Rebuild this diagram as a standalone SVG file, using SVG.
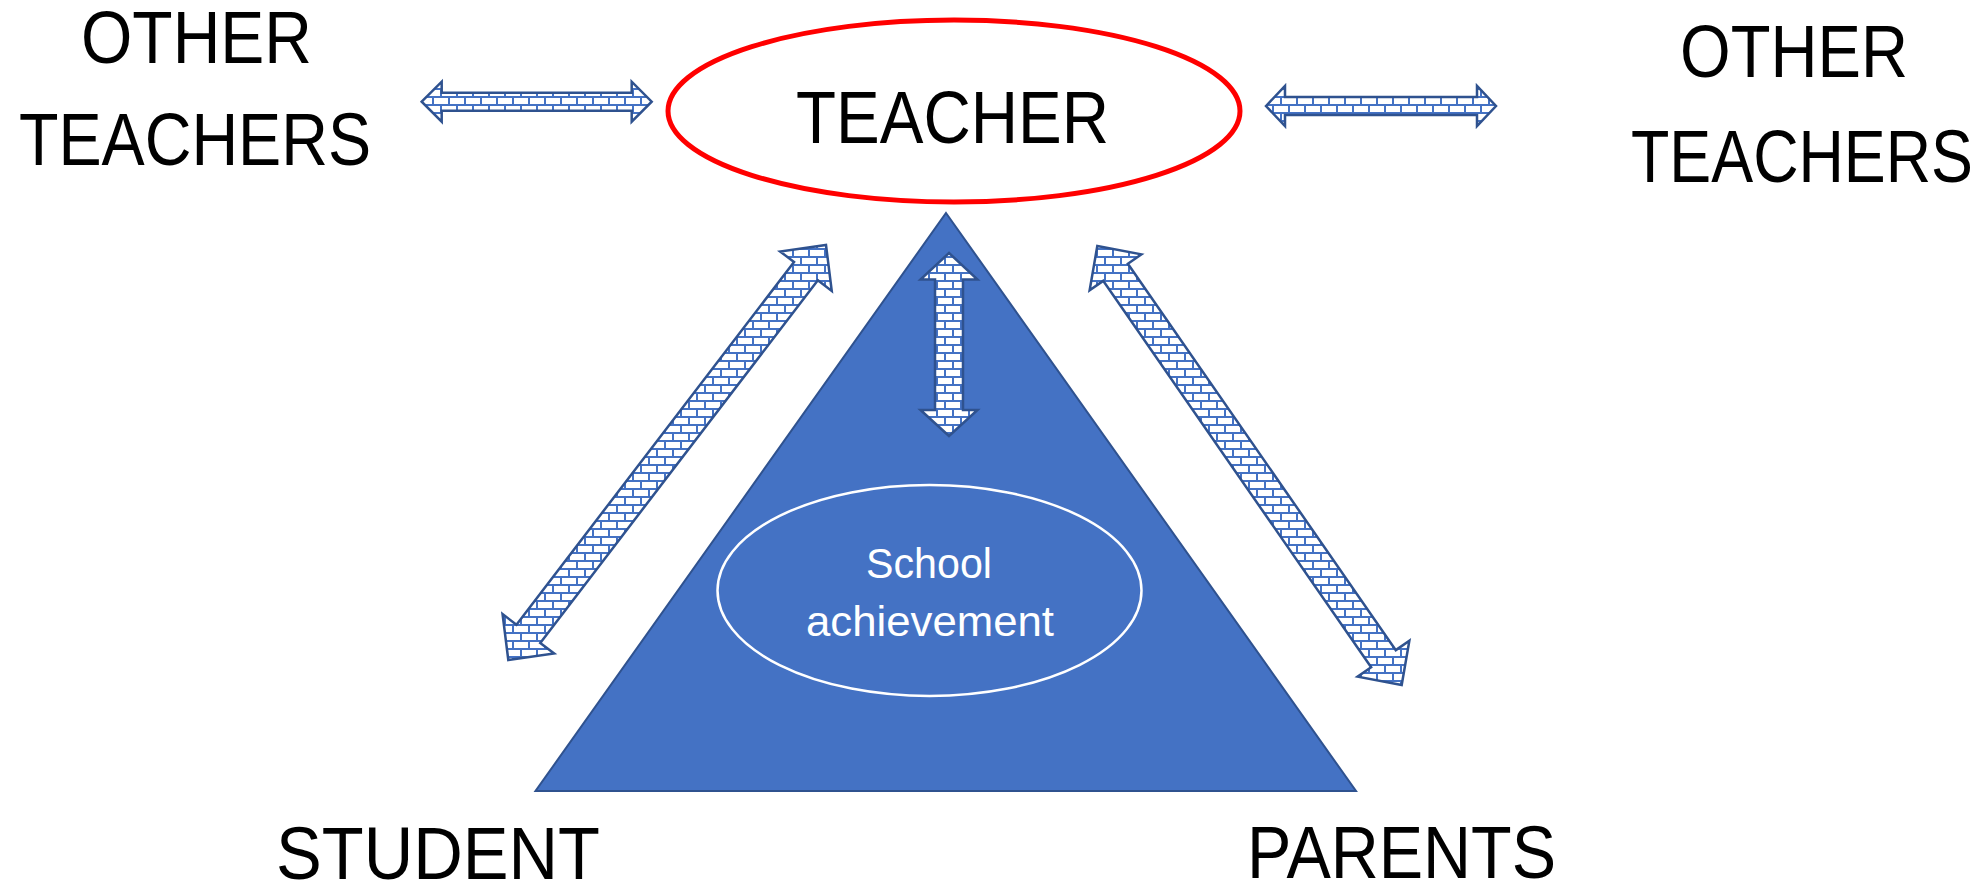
<svg xmlns="http://www.w3.org/2000/svg" width="1985" height="883" viewBox="0 0 1985 883">
  <defs>
    <!-- horizontal brick fill used by the double-headed arrows -->
    <pattern id="brick" width="16" height="16" patternUnits="userSpaceOnUse">
      <rect width="16" height="16" fill="#ffffff"/>
      <path d="M0 1H16M0 9H16M1 1V9M9 9V16M9 0V1" stroke="#4472C4" stroke-width="2" fill="none"/>
    </pattern>
    <style>
      .label { font-family: "Liberation Sans", Arial, sans-serif; font-size: 74px; fill: #000000; text-anchor: middle; }
      .inner { font-family: "Liberation Sans", Arial, sans-serif; font-size: 43px; fill: #ffffff; text-anchor: middle; }
      .arrow { fill: url(#brick); stroke: #2F528F; stroke-width: 2.5; stroke-linejoin: miter; }
    </style>
  </defs>

  <rect width="1985" height="883" fill="#ffffff"/>

  <!-- achievement triangle with the inner ellipse -->
  <g id="achievement">
    <polygon points="946,213 1356,791 535.5,791" fill="#4472C4" stroke="#2F528F" stroke-width="2"/>
    <ellipse cx="929.5" cy="590.5" rx="212" ry="105.5" fill="none" stroke="#ffffff" stroke-width="2.5"/>
    <text class="inner" x="929" y="578" textLength="126" lengthAdjust="spacingAndGlyphs">School</text>
    <text class="inner" x="930" y="636" textLength="248" lengthAdjust="spacingAndGlyphs">achievement</text>
  </g>

  <g id="teacher">
    <ellipse cx="954" cy="111" rx="286" ry="91" fill="#ffffff" stroke="#FF0000" stroke-width="5"/>
    <text class="label" x="952.5" y="143" font-size="75" textLength="313" lengthAdjust="spacingAndGlyphs">TEACHER</text>
  </g>

  <g id="other-teachers-left">
    <text class="label" x="196.5" y="63" textLength="231" lengthAdjust="spacingAndGlyphs">OTHER</text>
    <text class="label" x="195" y="165" textLength="352" lengthAdjust="spacingAndGlyphs">TEACHERS</text>
  </g>

  <g id="other-teachers-right">
    <text class="label" x="1794" y="77" textLength="228" lengthAdjust="spacingAndGlyphs">OTHER</text>
    <text class="label" x="1802" y="182" textLength="342" lengthAdjust="spacingAndGlyphs">TEACHERS</text>
  </g>

  <g id="student">
    <text class="label" x="438" y="879" textLength="324" lengthAdjust="spacingAndGlyphs">STUDENT</text>
  </g>

  <g id="parents">
    <text class="label" x="1401.5" y="878" textLength="309" lengthAdjust="spacingAndGlyphs">PARENTS</text>
  </g>

  <!-- double-headed connectors -->
  <g id="connectors">
    <polygon class="arrow" points="421.7,101.7 441.7,81.7 441.7,92.7 631.7,92.7 631.7,81.7 651.7,101.7 631.7,121.7 631.7,110.7 441.7,110.7 441.7,121.7"/>
    <polygon class="arrow" points="1266,106 1285,86 1285,97 1477,97 1477,86 1496,106 1477,126 1477,115 1285,115 1285,126"/>
    <polygon class="arrow" points="949,253 977.5,279.5 963,279.5 963,410 977.5,410 949,436 920.5,410 935,410 935,279.5 920.5,279.5"/>
    <polygon class="arrow" points="508.3,660 554.17,653.55 540.27,642.91 817.85,280.33 831.75,290.97 826,245 780.13,251.45 794.03,262.09 516.45,624.67 502.55,614.03"/>
    <polygon class="arrow" points="1097.3,246 1089.64,290.25 1103.2,280.85 1371.14,667.25 1357.58,676.65 1401.7,685 1409.36,640.75 1395.8,650.15 1127.86,263.75 1141.42,254.35"/>
  </g>
</svg>
